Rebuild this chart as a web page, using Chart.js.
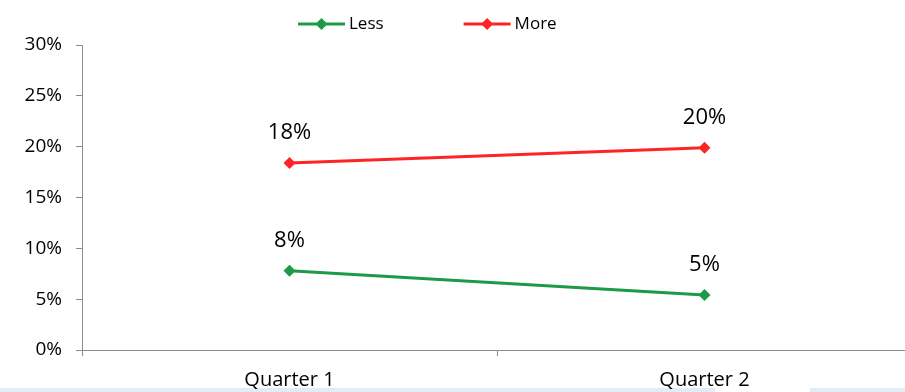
<!DOCTYPE html>
<html>
<head>
<meta charset="utf-8">
<script src="https://cdn.jsdelivr.net/npm/chart.js@4"></script>
<style>
  html, body { margin: 0; padding: 0; background: #fff; overflow: hidden; }
  #wrap { position: relative; width: 905px; height: 392px; overflow: hidden; }
  .strip { position: absolute; top: 388px; height: 4px; background: #e1ecf7; }
  canvas { position: absolute; left: 0; top: 0; }
</style>
</head>
<body>
<div id="wrap">
  <div class="strip" style="left:0;width:715px"></div>
  <div class="strip" style="left:810px;width:95px"></div>
  <canvas id="qChart" width="918" height="392"></canvas>
</div>
<script>
// Less / More by quarter

const quarters = ["Quarter 1", "Quarter 2"];
const lessData = [7.8, 5.4];
const moreData = [18.4, 19.9];
const yTicks = [0, 5, 10, 15, 20, 25, 30];

const green = "#1c9a48";
const red = "#ff2424";
const font = "'Open Sans', sans-serif";

// value labels above each point
const pointLabels = {
  id: "pointLabels",
  afterDatasetsDraw(chart) {
    const ctx = chart.ctx;
    ctx.save();
    ctx.font = "22px " + font;
    ctx.fillStyle = "#000";
    ctx.textAlign = "center";
    ctx.textBaseline = "middle";
    chart.data.datasets.forEach((ds, i) => {
      chart.getDatasetMeta(i).data.forEach((pt, j) => {
        ctx.fillText(Math.round(ds.data[j]) + "%", pt.x, pt.y - 30);
      });
    });
    ctx.restore();
  }
};

// legend: line with diamond marker, then the label
const lineLegend = {
  id: "lineLegend",
  afterDraw(chart) {
    const ctx = chart.ctx;
    ctx.save();
    ctx.font = "17px " + font;
    ctx.textBaseline = "middle";
    let x = 298;
    const y = 24;
    chart.data.datasets.forEach((ds) => {
      ctx.strokeStyle = ds.borderColor;
      ctx.lineWidth = 3;
      ctx.beginPath();
      ctx.moveTo(x, y);
      ctx.lineTo(x + 47, y);
      ctx.stroke();
      ctx.fillStyle = ds.borderColor;
      ctx.beginPath();
      ctx.moveTo(x + 23.5, y - 6);
      ctx.lineTo(x + 29.5, y);
      ctx.lineTo(x + 23.5, y + 6);
      ctx.lineTo(x + 17.5, y);
      ctx.closePath();
      ctx.fill();
      ctx.fillStyle = "#000";
      ctx.fillText(ds.label, x + 51, y);
      x += 51 + ctx.measureText(ds.label).width + 80;
    });
    ctx.restore();
  }
};

new Chart(document.getElementById("qChart"), {
  type: "line",
  data: {
    labels: quarters,
    datasets: [
      {
        label: "Less",
        data: lessData,
        borderColor: green,
        backgroundColor: green,
        borderWidth: 3,
        pointStyle: "rectRot",
        pointRadius: 6,
        pointBackgroundColor: green,
        pointBorderWidth: 0,
        tension: 0
      },
      {
        label: "More",
        data: moreData,
        borderColor: red,
        backgroundColor: red,
        borderWidth: 3,
        pointStyle: "rectRot",
        pointRadius: 6,
        pointBackgroundColor: red,
        pointBorderWidth: 0,
        tension: 0
      }
    ]
  },
  options: {
    responsive: false,
    animation: false,
    layout: { padding: { top: 45, left: 0, right: 0, bottom: 0 } },
    plugins: {
      legend: { display: false },
      tooltip: { enabled: false }
    },
    scales: {
      x: {
        type: "category",
        offset: true,
        grid: {
          offset: true,
          drawOnChartArea: false,
          tickLength: 6,
          color: "#8c8c8c"
        },
        border: { color: "#8c8c8c" },
        ticks: {
          color: "#000",
          font: { family: font, size: 20 },
          padding: 12,
          maxRotation: 0
        },
        afterFit(scale) { scale.height = 42; }
      },
      y: {
        min: 0,
        max: 30,
        afterBuildTicks(scale) { scale.ticks = yTicks.map(v => ({ value: v })); },
        grid: {
          drawOnChartArea: false,
          tickLength: 6,
          color: "#8c8c8c"
        },
        border: { color: "#8c8c8c" },
        ticks: {
          color: "#000",
          font: { family: font, size: 19 },
          padding: 14,
          callback: v => v + "%"
        },
        afterFit(scale) { scale.width = 82; }
      }
    }
  },
  plugins: [pointLabels, lineLegend]
});
</script>
</body>
</html>
